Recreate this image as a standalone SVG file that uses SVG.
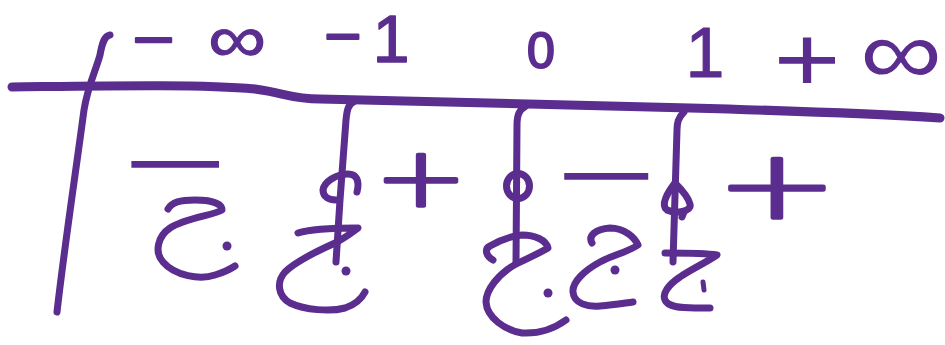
<svg xmlns="http://www.w3.org/2000/svg" width="945" height="345" viewBox="0 0 945 345">
<style>
.ink{fill:none;stroke:#5A2D8F;stroke-width:7;stroke-linecap:round;stroke-linejoin:round}
.dot{fill:#5A2D8F}
.t{font-family:"Liberation Sans",Arial,sans-serif;fill:#5A2D8F;stroke:#5A2D8F;stroke-linejoin:round;text-anchor:middle}
.lt{font-family:"DejaVu Sans",sans-serif;font-weight:200;stroke-width:3.5;stroke-linecap:round}
</style>
<rect width="945" height="345" fill="#ffffff"/>
<g id="grid">
<path class="ink" style="stroke-width:9" d="M12,87 C100,86 200,84 255,89 C285,93 292,99 320,99 L690,108 C800,111 880,114 940,118"/>
<path class="ink" d="M110,35 C104,36 102,44 100,55 C96,70 88,85 84,110 C76,170 64,250 57,312"/>
<path class="ink" d="M355,101 C348,104 347,110 346,120 L340,200 L336,262"/>
<path class="ink" d="M526,106 C519,110 517,115 517,125 L516,263"/>
<path class="ink" d="M684,112 C678,118 677,123 677,130 L673,262"/>
</g>
<g id="x-values">
<text class="t" transform="scale(1.2,1)" style="stroke-width:2"><tspan x="128" y="60" font-size="60">−</tspan><tspan x="197.5" y="62" font-size="68" style="stroke-width:1">∞</tspan></text>
<text class="t" style="stroke-width:2"><tspan x="343" y="58" font-size="64">−</tspan><tspan x="391" y="62" font-size="66" style="stroke-width:1.5">1</tspan></text>
<text class="t" x="541" y="68" font-size="50" style="stroke-width:2">0</text>
<text class="t" x="705" y="77" font-size="70" style="stroke-width:1">1</text>
<text class="t" transform="scale(1.25,1)" style="stroke-width:0"><tspan x="645.6" y="91" font-size="92">+</tspan><tspan x="720.8" y="84" font-size="92">∞</tspan></text>
</g>
<g id="signs">
<text class="t" transform="translate(175,165) scale(1.9,1)" x="0" y="31" font-size="95" style="stroke-width:0">−</text>
<text class="t lt" transform="translate(421,178) scale(1.36,1)" x="0" y="27.5" font-size="82">+</text>
<text class="t" transform="translate(606,177) scale(1.82,1)" x="0" y="31" font-size="95" style="stroke-width:0">−</text>
<text class="t lt" transform="translate(777,186) scale(1.55,1)" x="0" y="32" font-size="95">+</text>
</g>
<g id="zeros">
<path class="ink" d="M357,192 C360,180 356,174 348,174 C336,174 324,182 323,190 C323,197 329,200 336,200"/>
<ellipse class="ink" cx="518" cy="186" rx="11.5" ry="12.5"/>
<path class="ink" d="M675,183 C668,192 660,205 667,210 C675,214 692,212 690,204 C688,196 680,188 675,183 M684,212 L682,217"/>
</g>
<g id="marks">
<path class="ink" d="M168,209 C172,202 180,200 195,200 C210,200 222,203 222,210 C215,215 185,218 170,228 C158,236 154,252 163,262 C175,276 200,280 215,275 C225,272 232,268 235,266"/>
<circle class="dot" cx="227" cy="246" r="4.5"/>
<path class="ink" d="M298,233 C310,229 330,228 358,228 C350,234 345,238 335,243 C315,252 295,262 285,272 C276,282 278,296 290,303 C305,310 330,312 345,308 C357,304 362,298 365,292"/>
<circle class="dot" cx="346" cy="271" r="4.5"/>
<path class="ink" d="M493,260 C486,256 484,249 490,246 C500,240 512,236 522,235 C535,235 546,240 548,248 C538,254 528,258 516,264 C498,274 486,290 486,302 C487,318 505,330 522,333 C540,334 555,328 566,320"/>
<circle class="dot" cx="548" cy="293" r="4.5"/>
<path class="ink" d="M592,243 C588,236 595,229 610,228 C625,228 635,238 638,245 C628,252 613,255 600,262 C585,270 572,282 573,292 C574,304 588,307 600,306 C615,305 625,303 633,302"/>
<circle class="dot" cx="615" cy="270" r="4.5"/>
<path class="ink" d="M665,253 C685,253 705,253 717,255 C705,263 690,270 680,277 C668,285 662,294 665,300 C668,307 680,308 695,308 L710,308"/>
<path class="ink" style="stroke-width:5" d="M703,282 L704,290"/>
</g>
</svg>
